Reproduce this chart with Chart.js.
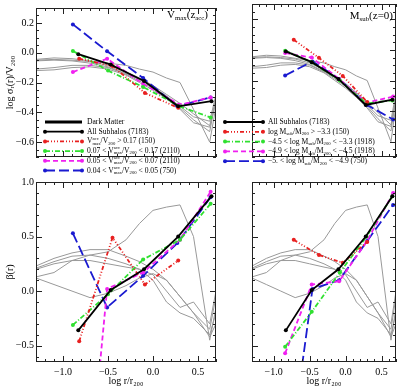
<!DOCTYPE html>
<html>
<head>
<meta charset="utf-8">
<script src="https://cdn.jsdelivr.net/npm/chart.js@4.4.1/dist/chart.umd.min.js"></script>
<style>
  body { margin: 0; background: #fff; }
  #wrap { position: relative; width: 400px; height: 387px; }
  #wrap canvas { position: absolute; left: 0; top: 0; }
</style>
</head>
<body>
<div id="wrap">
  <canvas id="tl" width="400" height="387"></canvas>
  <canvas id="tr" width="400" height="387"></canvas>
  <canvas id="bl" width="400" height="387"></canvas>
  <canvas id="br" width="400" height="387"></canvas>
</div>
<script>
// tick labels
const xTicks = [-1.0, -0.5, 0.0, 0.5];
const sigmaTicks = [0.2, 0.0, -0.2, -0.4, -0.6];
const betaTicks = [1.0, 0.5, 0.0, -0.5];

// gray curves: individual dark matter haloes
const haloR = [-1.3, -1.1, -0.9, -0.7, -0.5, -0.3, -0.15, 0.0, 0.15, 0.3, 0.45, 0.63, 0.7];
const haloSigma = [
  [-0.045, -0.035, -0.04, -0.055, -0.07, -0.085, -0.11, -0.13, -0.17, -0.2, -0.38, -0.6, -0.36],
  [-0.05, -0.045, -0.05, -0.06, -0.085, -0.13, -0.17, -0.22, -0.28, -0.34, -0.41, -0.49, -0.3],
  [-0.055, -0.05, -0.055, -0.07, -0.095, -0.14, -0.18, -0.23, -0.29, -0.36, -0.43, -0.46, -0.28],
  [-0.11, -0.1, -0.085, -0.085, -0.1, -0.145, -0.19, -0.24, -0.3, -0.37, -0.45, -0.53, -0.31],
  [-0.12, -0.115, -0.1, -0.095, -0.11, -0.15, -0.2, -0.25, -0.31, -0.38, -0.47, -0.5, -0.33]
];
const haloBeta = [
  [0.13, 0.17, 0.28, 0.33, 0.36, 0.47, 0.62, 0.74, 0.77, 0.79, 0.5, -0.45, -0.15],
  [0.23, 0.3, 0.35, 0.38, 0.38, 0.32, 0.27, 0.2, 0.1, -0.05, -0.2, -0.35, -0.05],
  [0.21, 0.27, 0.32, 0.33, 0.3, 0.25, 0.2, 0.15, 0.0, -0.15, -0.1, -0.3, 0.0],
  [0.2, 0.25, 0.28, 0.28, 0.25, 0.22, 0.2, 0.1, -0.1, -0.2, -0.25, -0.4, -0.2],
  [0.12, 0.06, 0.0, -0.06, -0.02, 0.05, 0.12, 0.16, 0.1, -0.05, -0.2, -0.42, -0.3]
];

// all subhaloes
const allR = [-0.83, -0.47, -0.1, 0.28, 0.65];
const allSigma = [-0.01, -0.08, -0.19, -0.36, -0.325];
const allBeta = [-0.36, 0.01, 0.2, 0.5, 0.87];

// split by Vmax(z_acc)
const vmaxRedR = [-0.82, -0.45, -0.09, 0.28];
const vmaxRedSigma = [-0.04, -0.09, -0.27, -0.37];
const vmaxRedBeta = [-0.46, 0.49, 0.06, 0.28];
const vmaxGreenR = [-0.89, -0.5, -0.11, 0.3, 0.64];
const vmaxGreenSigma = [0.012, -0.12, -0.23, -0.36, -0.435];
const vmaxGreenBeta = [-0.31, -0.03, 0.29, 0.47, 0.8];
const vmaxMagentaR = [-0.89, -0.51, -0.11, 0.3, 0.64];
const vmaxMagentaSigma = [-0.13, -0.04, -0.21, -0.35, -0.3];
const vmaxMagentaBeta = [-3.3, 0.02, 0.17, 0.47, 0.91];
const vmaxBlueR = [-0.89, -0.51, -0.11, 0.27, 0.64];
const vmaxBlueSigma = [0.19, 0.01, -0.17, -0.36, -0.3];
const vmaxBlueBeta = [0.53, -0.15, 0.14, 0.44, 0.86];

// split by Msub(z=0)
const msubRedR = [-0.72, -0.37, -0.04, 0.3];
const msubRedSigma = [0.066, -0.052, -0.17, -0.34];
const msubRedBeta = [0.47, 0.33, 0.26, 0.45];
const msubGreenR = [-0.84, -0.47, -0.08, 0.29, 0.65];
const msubGreenSigma = [-0.005, -0.08, -0.2, -0.35, -0.33];
const msubGreenBeta = [-0.51, -0.19, 0.17, 0.5, 0.87];
const msubMagentaR = [-0.84, -0.47, -0.09, 0.29, 0.66];
const msubMagentaSigma = [-0.02, -0.05, -0.19, -0.345, -0.305];
const msubMagentaBeta = [-0.57, 0.06, 0.09, 0.45, 0.9];
const msubBlueR = [-0.84, -0.46, -0.09, 0.3, 0.66];
const msubBlueSigma = [-0.167, -0.075, -0.19, -0.36, -0.455];
const msubBlueBeta = [-1.83, 0.02, 0.1, 0.46, 0.79];

const vmaxLabels = [
  'All Subhalos (7183)',
  'V^{acc}_{max}/V_{200} > 0.17 (150)',
  '0.07 < V^{acc}_{max}/V_{200} < 0.17 (2110)',
  '0.05 < V^{acc}_{max}/V_{200} < 0.07 (2110)',
  '0.04 < V^{acc}_{max}/V_{200} < 0.05 (750)'
];
const msubLabels = [
  'All Subhalos (7183)',
  'log M_{sub}/M_{200} > \u22123.3 (150)',
  '\u22124.5 < log M_{sub}/M_{200} < \u22123.3 (1918)',
  '\u22124.9 < log M_{sub}/M_{200} < \u22124.5 (1918)',
  '\u22125. < log M_{sub}/M_{200} < \u22124.9 (750)'
];

const FONT = '"Liberation Serif", "DejaVu Serif", serif';
const styles = {
  black:   { color: '#000000', dash: [] },
  red:     { color: '#e82020', dash: [4, 2, 1, 2, 1, 2, 1, 2] },
  green:   { color: '#30e030', dash: [5, 2, 1, 2] },
  magenta: { color: '#f020f0', dash: [5, 3] },
  blue:    { color: '#1a1ad0', dash: [10, 4] },
  gray:    { color: '#999999', dash: [] }
};

const pts = (xs, ys) => xs.map((x, i) => ({ x: x, y: ys[i] }));
const fmt = (v) => Number(v).toFixed(1).replace('-', '\u2212');

function series(xs, ys, st) {
  return {
    data: pts(xs, ys), borderColor: st.color, backgroundColor: st.color,
    borderWidth: 1.8, borderDash: st.dash, pointRadius: 2,
    pointBackgroundColor: st.color, pointBorderWidth: 0, tension: 0, order: 1
  };
}
function halo(ys) {
  return {
    data: pts(haloR, ys), borderColor: styles.gray.color, borderWidth: 1,
    pointRadius: 0, tension: 0, order: 10
  };
}

function parseRich(s) {
  const out = [];
  let buf = '', i = 0;
  while (i < s.length) {
    const c = s[i];
    if ((c === '^' || c === '_') && s[i + 1] === '{') {
      if (buf) { out.push({ k: 'n', t: buf }); buf = ''; }
      const j = s.indexOf('}', i);
      out.push({ k: c === '^' ? 'sup' : 'sub', t: s.slice(i + 2, j) });
      i = j + 1;
    } else { buf += c; i++; }
  }
  if (buf) out.push({ k: 'n', t: buf });
  return out;
}

// draws text with IDL-like sub/superscripts, returns width
function drawRich(ctx, s, x, y, size, measureOnly) {
  const parts = parseRich(s);
  let cx = x;
  for (let n = 0; n < parts.length; n++) {
    const p = parts[n];
    if (p.k === 'n') {
      ctx.font = size + 'px ' + FONT;
      if (!measureOnly) ctx.fillText(p.t, cx, y);
      cx += ctx.measureText(p.t).width;
    } else {
      ctx.font = (size * 0.62) + 'px ' + FONT;
      const dy = p.k === 'sup' ? -size * 0.4 : size * 0.28;
      if (!measureOnly) ctx.fillText(p.t, cx, y + dy);
      let w = ctx.measureText(p.t).width;
      const nx = parts[n + 1];
      if (p.k === 'sup' && nx && nx.k === 'sub') {
        if (!measureOnly) ctx.fillText(nx.t, cx, y + size * 0.28);
        w = Math.max(w, ctx.measureText(nx.t).width);
        n++;
      }
      cx += w;
    }
  }
  return cx - x;
}

function decor(spec) {
  return {
    id: 'decor',
    afterDatasetsDraw(chart) {
      const { ctx, chartArea: a, scales: { x, y } } = chart;
      ctx.save();
      ctx.strokeStyle = '#222';
      ctx.lineWidth = 1;
      ctx.setLineDash([]);
      ctx.strokeRect(a.left + 0.5, a.top + 0.5, a.right - a.left - 1, a.bottom - a.top - 1);
      const tick = (axis, step, len) => {
        const n0 = Math.ceil(axis.min / step - 1e-6), n1 = Math.floor(axis.max / step + 1e-6);
        ctx.beginPath();
        for (let n = n0; n <= n1; n++) {
          const p = Math.round(axis.getPixelForValue(n * step)) + 0.5;
          if (axis.isHorizontal()) {
            ctx.moveTo(p, a.bottom); ctx.lineTo(p, a.bottom - len);
            ctx.moveTo(p, a.top); ctx.lineTo(p, a.top + len);
          } else {
            ctx.moveTo(a.left, p); ctx.lineTo(a.left + len, p);
            ctx.moveTo(a.right, p); ctx.lineTo(a.right - len, p);
          }
        }
        ctx.stroke();
      };
      tick(x, 0.1, 3); tick(x, 0.5, 6);
      tick(y, spec.yMinor, 3); tick(y, spec.yMajor, 6);

      ctx.fillStyle = '#000';
      ctx.textBaseline = 'middle';
      if (spec.label) {
        const w = drawRich(ctx, spec.label, 0, 0, 11, true);
        drawRich(ctx, spec.label, spec.labelX - w, spec.labelY, 11);
      }
      if (spec.legend) {
        const L = spec.legend;
        L.items.forEach((it, i) => {
          const yy = L.y + i * L.step;
          ctx.save();
          ctx.strokeStyle = it.style.color;
          ctx.fillStyle = it.style.color;
          ctx.lineWidth = it.width || 1.8;
          ctx.setLineDash(it.style.dash);
          ctx.beginPath();
          ctx.moveTo(L.x, yy); ctx.lineTo(L.x + L.len, yy);
          ctx.stroke();
          if (it.points) {
            [L.x, L.x + L.len].forEach((px) => {
              ctx.beginPath(); ctx.arc(px, yy, 2, 0, Math.PI * 2); ctx.fill();
            });
          }
          ctx.restore();
          ctx.fillStyle = '#000';
          drawRich(ctx, it.text, L.x + L.len + 5, yy, 7.6);
        });
      }
      ctx.restore();
    }
  };
}

function xScale(show) {
  return {
    type: 'linear', min: -1.3, max: 0.7, display: show,
    grid: { display: false, drawTicks: false }, border: { display: false },
    afterBuildTicks: (s) => { s.ticks = xTicks.map((v) => ({ value: v })); },
    afterFit: (s) => { s.height = 25; },
    ticks: { padding: 4, color: '#000', autoSkip: false, maxRotation: 0,
             font: { family: FONT, size: 10 }, callback: fmt },
    title: { display: true, text: 'log r/r\u2082\u2080\u2080', color: '#000',
             font: { family: FONT, size: 10 }, padding: { top: 0, bottom: 0 } }
  };
}
function yScale(show, min, max, tickVals, title) {
  return {
    type: 'linear', min: min, max: max, display: show,
    grid: { display: false, drawTicks: false }, border: { display: false },
    afterBuildTicks: (s) => { s.ticks = tickVals.map((v) => ({ value: v })); },
    afterFit: (s) => { s.width = 36; },
    ticks: { padding: 2, color: '#000', autoSkip: false,
             font: { family: FONT, size: 10 }, callback: fmt },
    title: { display: true, text: title, color: '#000',
             font: { family: FONT, size: 10 }, padding: { top: 4, bottom: 0 } }
  };
}

function makePanel(id, datasets, pad, xShow, yShow, yMin, yMax, yTickVals, yTitle, spec) {
  new Chart(document.getElementById(id), {
    type: 'line',
    data: { datasets: datasets },
    options: {
      responsive: false, animation: false, devicePixelRatio: 1,
      layout: { padding: pad },
      plugins: { legend: { display: false }, tooltip: { enabled: false } },
      scales: {
        x: xScale(xShow),
        y: yScale(yShow, yMin, yMax, yTickVals, yTitle)
      }
    },
    plugins: [decor(spec)]
  });
}

const sigmaTitle = 'log \u03c3\u1d63(r)/V\u2082\u2080\u2080';
const legendStyles = [styles.black, styles.red, styles.green, styles.magenta, styles.blue];

makePanel('tl', [
  series(allR, allSigma, styles.black),
  series(vmaxRedR, vmaxRedSigma, styles.red),
  series(vmaxGreenR, vmaxGreenSigma, styles.green),
  series(vmaxMagentaR, vmaxMagentaSigma, styles.magenta),
  series(vmaxBlueR, vmaxBlueSigma, styles.blue)
].concat(haloSigma.map(halo)),
  { left: 0, right: 184, top: 1, bottom: 205 }, false, true, -0.7, 0.3, sigmaTicks, sigmaTitle,
  { yMajor: 0.2, yMinor: 0.05, label: 'V_{max}(z_{acc})', labelX: 208, labelY: 15,
    legend: { x: 45, y: 122, step: 9.7, len: 37,
      items: [{ text: 'Dark Matter', style: styles.black, width: 3, points: false }]
        .concat(vmaxLabels.map((t, i) => ({ text: t, style: legendStyles[i], points: true }))) } });

makePanel('tr', [
  series(allR, allSigma, styles.black),
  series(msubRedR, msubRedSigma, styles.red),
  series(msubGreenR, msubGreenSigma, styles.green),
  series(msubMagentaR, msubMagentaSigma, styles.magenta),
  series(msubBlueR, msubBlueSigma, styles.blue)
].concat(haloSigma.map(halo)),
  { left: 216, right: 3, top: 1, bottom: 205 }, false, false, -0.7, 0.3, sigmaTicks, '',
  { yMajor: 0.2, yMinor: 0.05, label: 'M_{sub}(z=0)', labelX: 393, labelY: 16,
    legend: { x: 225, y: 122, step: 9.8, len: 38,
      items: msubLabels.map((t, i) => ({ text: t, style: legendStyles[i], points: true })) } });

makePanel('bl', [
  series(allR, allBeta, styles.black),
  series(vmaxRedR, vmaxRedBeta, styles.red),
  series(vmaxGreenR, vmaxGreenBeta, styles.green),
  series(vmaxMagentaR, vmaxMagentaBeta, styles.magenta),
  series(vmaxBlueR, vmaxBlueBeta, styles.blue)
].concat(haloBeta.map(halo)),
  { left: 0, right: 184, top: 182, bottom: 0 }, true, true, -0.65, 1.0, betaTicks, '\u03b2(r)',
  { yMajor: 0.5, yMinor: 0.1 });

makePanel('br', [
  series(allR, allBeta, styles.black),
  series(msubRedR, msubRedBeta, styles.red),
  series(msubGreenR, msubGreenBeta, styles.green),
  series(msubMagentaR, msubMagentaBeta, styles.magenta),
  series(msubBlueR, msubBlueBeta, styles.blue)
].concat(haloBeta.map(halo)),
  { left: 216, right: 3, top: 182, bottom: 0 }, true, false, -0.65, 1.0, betaTicks, '',
  { yMajor: 0.5, yMinor: 0.1 });
</script>
</body>
</html>
